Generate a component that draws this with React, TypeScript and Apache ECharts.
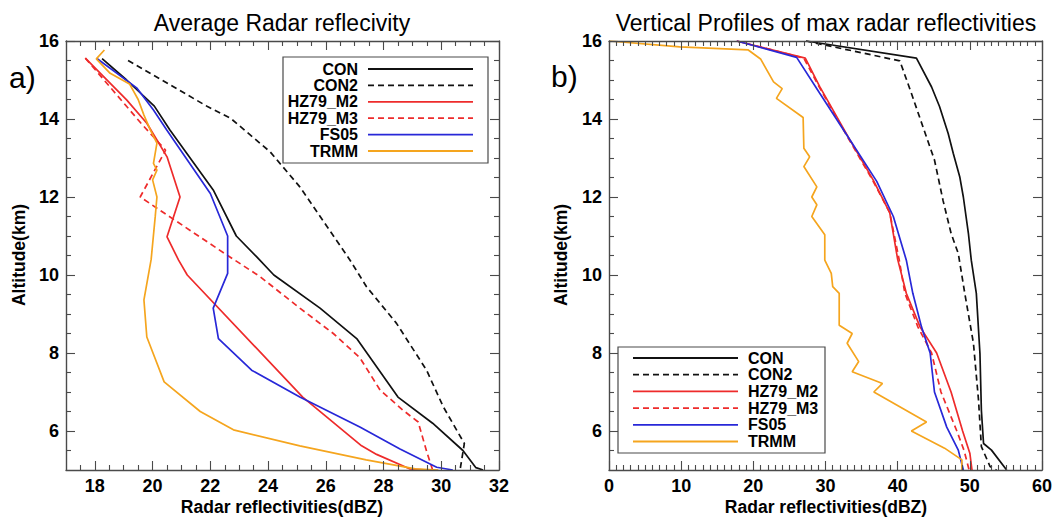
import React, { useEffect, useRef } from "react";
import * as echarts from "echarts";

const FONT = "'Liberation Sans', Arial, Helvetica, sans-serif";

const seriesNames = ["CON", "CON2", "HZ79_M2", "HZ79_M3", "FS05", "TRMM"];
const seriesColors = ["#111111", "#111111", "#ee2b2b", "#ee2b2b", "#2828d8", "#f5a51e"];
const seriesDashed = [false, true, false, true, false, false];

// Panel a) Average radar reflectivity: [dBZ, altitude km]
const avgCON = [[18.25, 15.55], [19.1, 15.0], [20.06, 14.33], [20.6, 13.72], [22.1, 12.18], [22.9, 11.0], [23.6, 10.47], [24.2, 10.0], [25.8, 9.15], [27.07, 8.37], [28.5, 6.87], [29.7, 6.2], [30.75, 5.5], [31.2, 5.06], [31.45, 5.0]];
const avgCON2 = [[19.15, 15.5], [21.9, 14.32], [22.7, 14.02], [24.07, 13.16], [25.1, 12.26], [26.84, 10.38], [27.41, 9.7], [28.45, 8.76], [29.49, 7.56], [30.07, 6.62], [30.8, 5.68], [30.65, 5.0]];
const avgM2 = [[17.67, 15.56], [19.1, 14.49], [19.8, 13.89], [20.15, 13.46], [20.5, 13.03], [20.95, 12.0], [20.5, 10.98], [20.9, 10.38], [21.2, 10.0], [25.2, 6.87], [27.24, 5.62], [27.76, 5.4], [28.9, 5.03], [29.5, 5.0]];
const avgM3 = [[17.67, 15.56], [19.6, 13.89], [20.45, 13.2], [19.57, 12.0], [22.6, 10.5], [23.72, 9.96], [25.1, 9.15], [26.26, 8.5], [27.18, 7.88], [27.88, 7.05], [28.68, 6.53], [29.2, 6.23], [29.5, 5.46], [29.7, 5.0]];
const avgFS05 = [[18.07, 15.55], [19.46, 14.79], [20.03, 14.23], [20.49, 13.72], [22.0, 12.09], [22.6, 11.0], [22.6, 10.04], [22.1, 9.15], [22.28, 8.37], [23.43, 7.56], [25.1, 6.87], [27.18, 6.1], [28.57, 5.54], [29.84, 5.07], [30.4, 5.0]];
const avgTRMM = [[18.33, 15.77], [18.05, 15.54], [18.53, 15.17], [19.2, 14.9], [19.5, 14.5], [19.7, 14.1], [19.92, 13.72], [20.15, 13.38], [20.03, 12.86], [20.15, 12.69], [20.0, 12.44], [20.15, 12.0], [20.09, 11.49], [19.95, 10.4], [19.7, 9.36], [19.8, 8.41], [20.4, 7.26], [21.65, 6.5], [22.8, 6.03], [25.1, 5.62], [27.4, 5.26], [29.1, 5.03], [29.9, 5.0]];

// Panel b) Vertical profiles of max radar reflectivities
const maxCON = [[27.3, 16.0], [42.6, 15.56], [44.7, 14.82], [45.8, 14.32], [47.0, 13.63], [47.7, 13.12], [48.6, 12.52], [49.1, 12.0], [49.8, 11.07], [50.2, 10.38], [50.9, 9.53], [51.4, 7.99], [51.6, 6.53], [51.9, 5.68], [53.0, 5.51], [55.1, 5.0]];
const maxCON2 = [[27.3, 16.0], [40.3, 15.49], [41.9, 14.66], [43.5, 13.8], [45.1, 12.95], [46.3, 11.9], [47.4, 11.07], [48.4, 10.55], [49.3, 9.53], [50.5, 8.25], [51.2, 6.8], [51.6, 5.6], [52.8, 5.09], [53.7, 5.0]];
const maxM2 = [[17.7, 16.0], [27.2, 15.56], [29.2, 14.83], [33.4, 13.46], [36.6, 12.44], [38.9, 11.6], [40.0, 10.4], [41.2, 9.53], [43.1, 8.67], [45.4, 8.0], [47.4, 7.0], [49.0, 6.0], [50.0, 5.43], [50.3, 5.0]];
const maxM3 = [[17.7, 16.0], [27.0, 15.56], [29.1, 14.83], [33.3, 13.46], [36.5, 12.44], [38.9, 11.6], [40.2, 10.4], [41.0, 9.53], [42.8, 8.67], [44.7, 8.0], [46.0, 7.0], [48.2, 6.0], [49.2, 5.5], [49.9, 5.0]];
const maxFS05 = [[17.7, 16.0], [26.0, 15.58], [29.2, 14.66], [33.4, 13.46], [37.1, 12.4], [39.4, 11.5], [41.2, 10.38], [42.1, 9.53], [43.3, 8.67], [44.5, 8.0], [45.1, 7.0], [46.8, 6.1], [48.4, 5.51], [49.1, 5.0]];
const maxTRMM = [[0.1, 16.0], [9.8, 15.85], [19.3, 15.77], [21.0, 15.54], [22.8, 14.95], [24.0, 14.78], [23.2, 14.53], [26.9, 14.04], [27.0, 13.25], [27.8, 13.03], [27.0, 12.78], [28.8, 12.26], [28.1, 12.0], [28.8, 11.8], [28.1, 11.5], [29.9, 11.03], [29.9, 10.38], [30.8, 10.04], [31.0, 9.7], [31.9, 9.53], [31.9, 8.71], [33.7, 8.5], [33.0, 8.25], [34.6, 7.78], [33.7, 7.52], [37.9, 7.22], [36.7, 7.0], [44.0, 6.23], [41.9, 6.0], [46.5, 5.56], [48.9, 5.26], [48.9, 5.0]];

const avgData = [avgCON, avgCON2, avgM2, avgM3, avgFS05, avgTRMM];
const maxData = [maxCON, maxCON2, maxM2, maxM3, maxFS05, maxTRMM];

// Axis ticks
const xTicksA = [18, 20, 22, 24, 26, 28, 30, 32];
const xTicksB = [0, 10, 20, 30, 40, 50, 60];
const yTicks = [6, 8, 10, 12, 14, 16];
const xRangeA = [17, 32];
const xRangeB = [0, 60];
const yRange = [5, 16];

const titleA = "Average Radar reflecivity";
const titleB = "Vertical Profiles of max radar reflectivities";
const xName = "Radar reflectivities(dBZ)";
const yName = "Altitude(km)";

function minorValues(min: number, max: number, step: number, majors: number[]) {
  const out: number[] = [];
  const n = Math.round((max - min) / step);
  for (let i = 1; i < n; i++) {
    const v = Math.round((min + i * step) * 1000) / 1000;
    if (!majors.includes(v)) out.push(v);
  }
  return out;
}

const AX_COLOR = "#4a4a4a";

function axisSet(dim: "x" | "y", grid: number, range: number[], majors: number[], minors: number[]) {
  const positions = dim === "x" ? ["bottom", "top"] : ["left", "right"];
  const axes: any[] = [];
  positions.forEach((pos, pi) => {
    [true, false].forEach((isMajor) => {
      axes.push({
        type: "value",
        gridIndex: grid,
        position: pos,
        min: range[0],
        max: range[1],
        splitLine: { show: false },
        axisLine: { show: isMajor, onZero: false, lineStyle: { color: AX_COLOR, width: 1.4 } },
        axisTick: {
          show: true,
          inside: true,
          length: isMajor ? 9 : 5,
          customValues: isMajor ? majors : minors,
          lineStyle: { color: AX_COLOR, width: 1.1 },
        },
        axisLabel: {
          show: isMajor && pi === 0,
          customValues: majors,
          margin: 7,
          color: "#000",
          fontFamily: FONT,
          fontWeight: "bold",
          fontSize: 18,
        },
        z: 5,
      });
    });
  });
  return axes;
}

const GRID_TOP = 41;
const GRID_H = 429;
const GRID_W = 433;
const GRID_LEFT_A = 66;
const GRID_LEFT_B = 609;

function legendGraphic(kind: "a" | "b") {
  const els: any[] = [];
  if (kind === "a") {
    els.push({ type: "rect", shape: { x: 283, y: 57, width: 205, height: 106 }, style: { fill: "#fff", stroke: AX_COLOR, lineWidth: 1.2 }, z: 100 });
    seriesNames.forEach((name, i) => {
      const y = 69 + i * 16.4;
      els.push({ type: "line", shape: { x1: 368, y1: y, x2: 473, y2: y }, style: { stroke: seriesColors[i], lineWidth: 1.8, lineDash: seriesDashed[i] ? [6, 4] : null }, z: 101 });
      els.push({ type: "text", x: 358, y: y, style: { text: name, fill: "#000", font: `bold 16px ${FONT}`, align: "right", verticalAlign: "middle" }, z: 101 });
    });
  } else {
    els.push({ type: "rect", shape: { x: 618, y: 347, width: 207, height: 106 }, style: { fill: "#fff", stroke: AX_COLOR, lineWidth: 1.2 }, z: 100 });
    seriesNames.forEach((name, i) => {
      const y = 358 + i * 16.7;
      els.push({ type: "line", shape: { x1: 633, y1: y, x2: 738, y2: y }, style: { stroke: seriesColors[i], lineWidth: 1.8, lineDash: seriesDashed[i] ? [6, 4] : null }, z: 101 });
      els.push({ type: "text", x: 748, y: y, style: { text: name, fill: "#000", font: `bold 16px ${FONT}`, align: "left", verticalAlign: "middle" }, z: 101 });
    });
  }
  return els;
}

function textEl(text: string, x: number, y: number, font: string, align = "center", rotation = 0) {
  return { type: "text", x, y, rotation, style: { text, fill: "#000", font, align, verticalAlign: "middle" }, z: 110 };
}

export default function App() {
  const ref = useRef<HTMLDivElement>(null);
  useEffect(() => {
    if (!ref.current) return;
    const chart = echarts.init(ref.current, undefined, { renderer: "svg" });

    const xMinA = minorValues(xRangeA[0], xRangeA[1], 0.5, xTicksA);
    const xMinB = minorValues(xRangeB[0], xRangeB[1], 1, xTicksB);
    const yMin = minorValues(yRange[0], yRange[1], 0.5, yTicks);

    const xAxes = [...axisSet("x", 0, xRangeA, xTicksA, xMinA), ...axisSet("x", 1, xRangeB, xTicksB, xMinB)];
    const yAxes = [...axisSet("y", 0, yRange, yTicks, yMin), ...axisSet("y", 1, yRange, yTicks, yMin)];

    const series: any[] = [];
    [avgData, maxData].forEach((set, gi) => {
      set.forEach((d, i) => {
        series.push({
          type: "line",
          name: seriesNames[i] + (gi === 0 ? " (avg)" : " (max)"),
          xAxisIndex: gi * 4,
          yAxisIndex: gi * 4,
          data: d,
          showSymbol: false,
          symbol: "none",
          lineStyle: { color: seriesColors[i], width: 1.7, type: seriesDashed[i] ? [6, 4] : "solid" },
          z: 3,
        });
      });
    });

    const graphics = [
      ...legendGraphic("a"),
      ...legendGraphic("b"),
      textEl(titleA, 282, 23, `23px ${FONT}`),
      textEl(titleB, 826, 23, `23px ${FONT}`),
      textEl("a)", 9, 77, `30px ${FONT}`, "left"),
      textEl("b)", 551, 76, `30px ${FONT}`, "left"),
      textEl(xName, 282, 507, `bold 17.5px ${FONT}`),
      textEl(xName, 826, 507, `bold 17.5px ${FONT}`),
      textEl(yName, 19, 255, `bold 17.5px ${FONT}`, "center", Math.PI / 2),
      textEl(yName, 561, 255, `bold 17.5px ${FONT}`, "center", Math.PI / 2),
    ];

    chart.setOption({
      animation: false,
      backgroundColor: "#fff",
      grid: [
        { left: GRID_LEFT_A, top: GRID_TOP, width: GRID_W, height: GRID_H, containLabel: false },
        { left: GRID_LEFT_B, top: GRID_TOP, width: GRID_W, height: GRID_H, containLabel: false },
      ],
      xAxis: xAxes,
      yAxis: yAxes,
      series,
      graphic: { elements: graphics },
    });
    return () => chart.dispose();
  }, []);
  return <div ref={ref} style={{ position: "fixed", left: 0, top: 0, width: 1060, height: 520 }} />;
}
